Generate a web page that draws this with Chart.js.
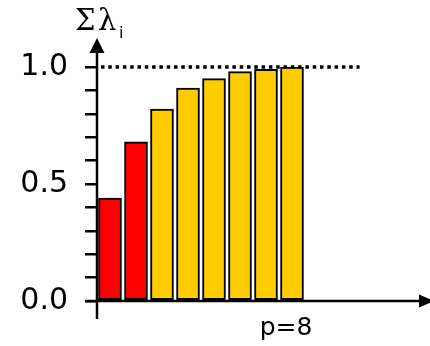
<!DOCTYPE html>
<html>
<head>
<meta charset="utf-8">
<script src="https://cdn.jsdelivr.net/npm/chart.js@4.4.1/dist/chart.umd.min.js"></script>
<style>
  html, body { margin: 0; padding: 0; background: #fff; }
  #wrap { width: 430px; height: 346px; }
</style>
</head>
<body>
<div id="wrap"><canvas id="scree"></canvas></div>
<script>
// Number of principal components p and cumulative share of the eigenvalues
const components = [1, 2, 3, 4, 5, 6, 7, 8];
const cumulativeShare = [0.44, 0.68, 0.82, 0.91, 0.95, 0.98, 0.99, 1.0];
const keptCount = 2;          // first components highlighted in red
const totalShare = 1.0;       // dotted reference level
const yLabelValues = [0, 0.5, 1.0];
const xLabelValues = [8];

const RED = '#ff0000';
const GOLD = '#ffcc00';
const INK = '#000000';
const FONT = "'DejaVu Sans', sans-serif";

// Axis lines with arrow heads, the dotted 100% line and the Σλi title
const axesPlugin = {
  id: 'axesArrows',
  afterDatasetsDraw(chart) {
    const { ctx, chartArea, scales } = chart;
    const x0 = chartArea.left;
    const y0 = scales.y.getPixelForValue(0);
    const yTop = scales.y.getPixelForValue(totalShare);

    ctx.save();
    ctx.strokeStyle = INK;
    ctx.fillStyle = INK;

    // dotted line at the total
    ctx.lineWidth = 3.5;
    ctx.setLineDash([3.5, 3.8]);
    ctx.beginPath();
    ctx.moveTo(x0 + 4, yTop);
    ctx.lineTo(scales.x.getPixelForValue(10.6), yTop);
    ctx.stroke();
    ctx.setLineDash([]);

    // vertical axis, running a little below the horizontal one
    ctx.lineWidth = 2.5;
    ctx.beginPath();
    ctx.moveTo(x0, y0 + 18);
    ctx.lineTo(x0, yTop - 22);
    ctx.stroke();
    ctx.beginPath();
    ctx.moveTo(x0, yTop - 29);
    ctx.lineTo(x0 - 7.5, yTop - 14);
    ctx.lineTo(x0 + 7.5, yTop - 14);
    ctx.closePath();
    ctx.fill();

    // horizontal axis
    ctx.beginPath();
    ctx.moveTo(x0 - 12, y0);
    ctx.lineTo(chartArea.right, y0);
    ctx.stroke();
    ctx.beginPath();
    ctx.moveTo(chartArea.right + 12, y0);
    ctx.lineTo(chartArea.right - 3, y0 - 6.5);
    ctx.lineTo(chartArea.right - 3, y0 + 6.5);
    ctx.closePath();
    ctx.fill();

    // axis title: Σ λ with subscript i
    ctx.textBaseline = 'alphabetic';
    ctx.textAlign = 'left';
    ctx.font = "29px 'DejaVu Serif', serif";
    ctx.fillText('\u03A3', x0 - 22, yTop - 37);
    ctx.fillText('\u03BB', x0 + 1, yTop - 37);
    ctx.font = "16px 'DejaVu Sans', sans-serif";
    ctx.fillText('i', x0 + 22, yTop - 29);
    ctx.restore();
  }
};

new Chart(document.getElementById('scree'), {
  type: 'bar',
  data: {
    datasets: [{
      data: components.map((p, i) => ({ x: p, y: cumulativeShare[i] })),
      backgroundColor: ctx => ctx.dataIndex < keptCount ? RED : GOLD,
      borderColor: INK,
      borderWidth: 2,
      borderSkipped: false,
      barThickness: 23
    }]
  },
  options: {
    responsive: true,
    maintainAspectRatio: false,
    animation: false,
    layout: { padding: { top: 67, right: 8, left: 0, bottom: 0 } },
    plugins: {
      legend: { display: false },
      tooltip: { enabled: false }
    },
    scales: {
      x: {
        type: 'linear',
        offset: false,
        min: 0.5,
        max: 13,
        afterBuildTicks(scale) {
          scale.ticks = xLabelValues.map(v => ({ value: v }));
        },
        afterFit(scale) { scale.height = 45; },
        grid: { display: false },
        border: { display: false },
        ticks: {
          color: INK,
          padding: 4,
          labelOffset: -6,
          font: { family: FONT, size: 25 },
          callback: value => 'p=' + value
        }
      },
      y: {
        min: 0,
        max: 1,
        afterFit(scale) { scale.width = 97; },
        grid: {
          drawOnChartArea: false,
          drawTicks: true,
          tickLength: 12,
          color: INK,
          lineWidth: 2.5
        },
        border: { display: false },
        ticks: {
          stepSize: 0.1,
          autoSkip: false,
          color: INK,
          padding: 17,
          font: { family: FONT, size: 30 },
          callback: value => yLabelValues.some(v => Math.abs(v - value) < 1e-6) ? value.toFixed(1) : ''
        }
      }
    }
  },
  plugins: [axesPlugin]
});
</script>
</body>
</html>
